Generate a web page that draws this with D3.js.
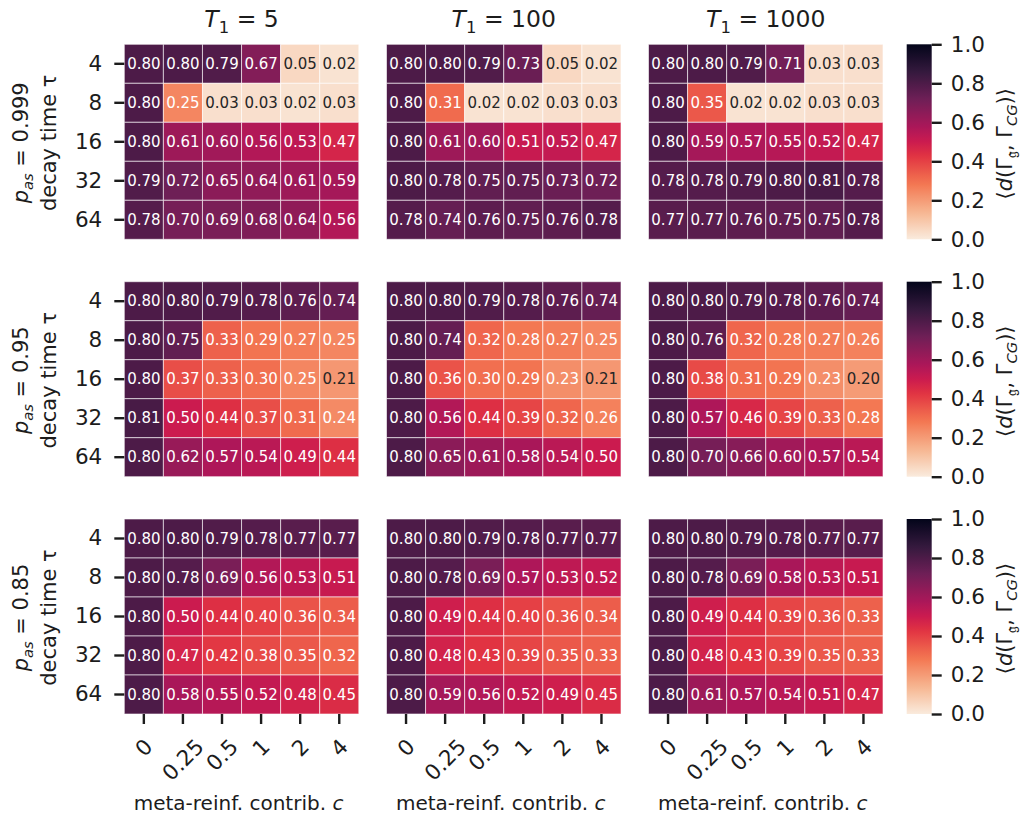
<!DOCTYPE html>
<html>
<head>
<meta charset="utf-8">
<script src="https://cdn.jsdelivr.net/npm/d3@7"></script>
<style>
  body { margin: 0; background: #fff; }
  svg { font-family: "DejaVu Sans", sans-serif; }
</style>
</head>
<body>
<div id="chart"></div>
<script>
// columns / rows of every heatmap
const cLabels = ["0", "0.25", "0.5", "1", "2", "4"];
const tauLabels = ["4", "8", "16", "32", "64"];
const t1Values = ["5", "100", "1000"];
const pasValues = ["0.999", "0.95", "0.85"];
const cbarTicks = [0, 0.2, 0.4, 0.6, 0.8, 1.0];

// p_as = 0.999
const p999_t5 = [
  [0.80, 0.80, 0.79, 0.67, 0.05, 0.02],
  [0.80, 0.25, 0.03, 0.03, 0.02, 0.03],
  [0.80, 0.61, 0.60, 0.56, 0.53, 0.47],
  [0.79, 0.72, 0.65, 0.64, 0.61, 0.59],
  [0.78, 0.70, 0.69, 0.68, 0.64, 0.56]
];
const p999_t100 = [
  [0.80, 0.80, 0.79, 0.73, 0.05, 0.02],
  [0.80, 0.31, 0.02, 0.02, 0.03, 0.03],
  [0.80, 0.61, 0.60, 0.51, 0.52, 0.47],
  [0.80, 0.78, 0.75, 0.75, 0.73, 0.72],
  [0.78, 0.74, 0.76, 0.75, 0.76, 0.78]
];
const p999_t1000 = [
  [0.80, 0.80, 0.79, 0.71, 0.03, 0.03],
  [0.80, 0.35, 0.02, 0.02, 0.03, 0.03],
  [0.80, 0.59, 0.57, 0.55, 0.52, 0.47],
  [0.78, 0.78, 0.79, 0.80, 0.81, 0.78],
  [0.77, 0.77, 0.76, 0.75, 0.75, 0.78]
];
// p_as = 0.95
const p95_t5 = [
  [0.80, 0.80, 0.79, 0.78, 0.76, 0.74],
  [0.80, 0.75, 0.33, 0.29, 0.27, 0.25],
  [0.80, 0.37, 0.33, 0.30, 0.25, 0.21],
  [0.81, 0.50, 0.44, 0.37, 0.31, 0.24],
  [0.80, 0.62, 0.57, 0.54, 0.49, 0.44]
];
const p95_t100 = [
  [0.80, 0.80, 0.79, 0.78, 0.76, 0.74],
  [0.80, 0.74, 0.32, 0.28, 0.27, 0.25],
  [0.80, 0.36, 0.30, 0.29, 0.23, 0.21],
  [0.80, 0.56, 0.44, 0.39, 0.32, 0.26],
  [0.80, 0.65, 0.61, 0.58, 0.54, 0.50]
];
const p95_t1000 = [
  [0.80, 0.80, 0.79, 0.78, 0.76, 0.74],
  [0.80, 0.76, 0.32, 0.28, 0.27, 0.26],
  [0.80, 0.38, 0.31, 0.29, 0.23, 0.20],
  [0.80, 0.57, 0.46, 0.39, 0.33, 0.28],
  [0.80, 0.70, 0.66, 0.60, 0.57, 0.54]
];
// p_as = 0.85
const p85_t5 = [
  [0.80, 0.80, 0.79, 0.78, 0.77, 0.77],
  [0.80, 0.78, 0.69, 0.56, 0.53, 0.51],
  [0.80, 0.50, 0.44, 0.40, 0.36, 0.34],
  [0.80, 0.47, 0.42, 0.38, 0.35, 0.32],
  [0.80, 0.58, 0.55, 0.52, 0.48, 0.45]
];
const p85_t100 = [
  [0.80, 0.80, 0.79, 0.78, 0.77, 0.77],
  [0.80, 0.78, 0.69, 0.57, 0.53, 0.52],
  [0.80, 0.49, 0.44, 0.40, 0.36, 0.34],
  [0.80, 0.48, 0.43, 0.39, 0.35, 0.33],
  [0.80, 0.59, 0.56, 0.52, 0.49, 0.45]
];
const p85_t1000 = [
  [0.80, 0.80, 0.79, 0.78, 0.77, 0.77],
  [0.80, 0.78, 0.69, 0.58, 0.53, 0.51],
  [0.80, 0.49, 0.44, 0.39, 0.36, 0.33],
  [0.80, 0.48, 0.43, 0.39, 0.35, 0.33],
  [0.80, 0.61, 0.57, 0.54, 0.51, 0.47]
];

const grid = [
  [p999_t5, p999_t100, p999_t1000],
  [p95_t5, p95_t100, p95_t1000],
  [p85_t5, p85_t100, p85_t1000]
];

const svgWidth = 1023;
const svgHeight = 821;

const panelLefts = [124.3, 386.5, 648.5];
const panelTops = [44.3, 281.7, 519];
const panelW = 234.5;
const panelH = 195;
const cbarLeft = 906.7;
const cbarW = 25;

const ink = "#1c1c1c";
const tickFont = 21.5;
const titleFont = 23.5;
const ylabFont = 21;
const xlabFont = 20;
const cbarLabFont = 21;
const annotFont = 15;

// seaborn "rocket", reversed
const rocketPos = [0, 1 / 7, 2 / 7, 3 / 7, 0.5, 4 / 7, 5 / 7, 6 / 7, 1];
const rocketCols = ["#03051a", "#35193e", "#701f57", "#ad1759", "#cb1b4f", "#e13342", "#f37651", "#f6b48f", "#faebdd"];
const rocket = d3.scaleLinear().domain(rocketPos).range(rocketCols).interpolate(d3.interpolateRgb);
const color = v => rocket(1 - Math.max(0, Math.min(1, v)));

function luminance(c) {
  const rgb = d3.rgb(c);
  const lin = [rgb.r, rgb.g, rgb.b].map(x => {
    x /= 255;
    return x <= 0.03928 ? x / 12.92 : Math.pow((x + 0.055) / 1.055, 2.4);
  });
  return 0.2126 * lin[0] + 0.7152 * lin[1] + 0.0722 * lin[2];
}

const svg = d3.select("#chart")
  .append("svg")
  .attr("width", svgWidth)
  .attr("height", svgHeight);

const defs = svg.append("defs");
const grad = defs.append("linearGradient")
  .attr("id", "cbarGrad")
  .attr("x1", 0).attr("y1", 1).attr("x2", 0).attr("y2", 0);
d3.range(0, 1.0001, 0.02).forEach(v => {
  grad.append("stop").attr("offset", v).attr("stop-color", color(v));
});

const xScale = d3.scaleBand().domain(cLabels).range([0, panelW]);
const yScale = d3.scaleBand().domain(tauLabels).range([0, panelH]);

function styleAxis(g) {
  g.select(".domain").remove();
  g.selectAll(".tick line").attr("stroke", ink).attr("stroke-width", 2.4);
  g.selectAll(".tick text").attr("fill", ink).style("font-size", tickFont + "px")
    .style("font-family", "DejaVu Sans");
}

grid.forEach((rowPanels, ri) => {
  rowPanels.forEach((values, ci) => {
    const g = svg.append("g")
      .attr("transform", `translate(${panelLefts[ci]}, ${panelTops[ri]})`);

    const cells = [];
    values.forEach((row, i) => row.forEach((v, j) => cells.push({ tau: tauLabels[i], c: cLabels[j], v: v })));

    g.selectAll("rect.cell")
      .data(cells)
      .enter()
      .append("rect")
      .attr("class", "cell")
      .attr("x", d => xScale(d.c))
      .attr("y", d => yScale(d.tau))
      .attr("width", xScale.bandwidth())
      .attr("height", yScale.bandwidth())
      .attr("fill", d => color(d.v))
      .attr("stroke", "#ffffff")
      .attr("stroke-opacity", 0.6)
      .attr("stroke-width", 1);

    g.selectAll("text.annot")
      .data(cells)
      .enter()
      .append("text")
      .attr("class", "annot")
      .attr("x", d => xScale(d.c) + xScale.bandwidth() / 2)
      .attr("y", d => yScale(d.tau) + yScale.bandwidth() / 2)
      .attr("text-anchor", "middle")
      .attr("dominant-baseline", "central")
      .style("font-size", annotFont + "px")
      .attr("fill", d => luminance(color(d.v)) > 0.408 ? "#262626" : "#ffffff")
      .text(d => d.v.toFixed(2));

    // y axis only on first column
    if (ci === 0) {
      const yAxis = g.append("g")
        .call(d3.axisLeft(yScale).tickSize(10).tickPadding(12));
      styleAxis(yAxis);
    }

    // x axis only on last row
    if (ri === grid.length - 1) {
      const xAxis = g.append("g")
        .attr("transform", `translate(0, ${panelH})`)
        .call(d3.axisBottom(xScale).tickSize(10).tickFormat(""));
      styleAxis(xAxis);

      const h = tickFont * 1.16;
      cLabels.forEach(lbl => {
        const t = g.append("text")
          .attr("text-anchor", "middle")
          .attr("dominant-baseline", "central")
          .attr("fill", ink)
          .style("font-size", tickFont + "px")
          .text(lbl);
        const w = t.node().getComputedTextLength();
        const cy = panelH + 20 + (w + h) / (2 * Math.SQRT2);
        t.attr("transform", `translate(${xScale(lbl) + xScale.bandwidth() / 2}, ${cy}) rotate(-45)`);
      });

      const xl = g.append("text")
        .attr("x", panelW / 2 - 3)
        .attr("y", panelH + 96)
        .attr("text-anchor", "middle")
        .attr("fill", ink)
        .style("font-size", xlabFont + "px");
      xl.append("tspan").text("meta-reinf. contrib. ");
      xl.append("tspan").attr("font-style", "italic").text("c");
    }

    // column titles
    if (ri === 0) {
      const tt = g.append("text")
        .attr("x", panelW / 2)
        .attr("y", -17)
        .attr("text-anchor", "middle")
        .attr("fill", ink)
        .style("font-size", titleFont + "px");
      tt.append("tspan").attr("font-style", "italic").text("T");
      tt.append("tspan").attr("dy", 6).style("font-size", (titleFont * 0.7) + "px").text("1");
      tt.append("tspan").attr("dy", -6).text(" = " + t1Values[ci]);
    }
  });

  // row labels
  const midY = panelTops[ri] + panelH / 2;
  const pl = svg.append("text")
    .attr("transform", `translate(28, ${midY + 1}) rotate(-90)`)
    .attr("text-anchor", "middle")
    .attr("fill", ink)
    .style("font-size", ylabFont + "px");
  pl.append("tspan").attr("font-style", "italic").text("p");
  pl.append("tspan").attr("font-style", "italic").attr("dy", 5).style("font-size", (ylabFont * 0.7) + "px").text("as");
  pl.append("tspan").attr("dy", -5).text(" = " + pasValues[ri]);

  svg.append("text")
    .attr("transform", `translate(56, ${midY + 1}) rotate(-90)`)
    .attr("text-anchor", "middle")
    .attr("fill", ink)
    .style("font-size", ylabFont + "px")
    .text("decay time τ");

  // colorbar
  const cb = svg.append("g")
    .attr("transform", `translate(${cbarLeft}, ${panelTops[ri]})`);
  cb.append("rect")
    .attr("width", cbarW)
    .attr("height", panelH)
    .attr("fill", "url(#cbarGrad)");
  const cScale = d3.scaleLinear().domain([0, 1]).range([panelH, 0]);
  const cAxis = cb.append("g")
    .attr("transform", `translate(${cbarW}, 0)`)
    .call(d3.axisRight(cScale).tickValues(cbarTicks).tickFormat(d3.format(".1f")).tickSize(10).tickPadding(9));
  styleAxis(cAxis);

  const cl = svg.append("text")
    .attr("transform", `translate(1012, ${midY + 2}) rotate(-90)`)
    .attr("text-anchor", "middle")
    .attr("fill", ink)
    .style("font-size", cbarLabFont + "px");
  cl.append("tspan").text("⟨");
  cl.append("tspan").attr("font-style", "italic").text("d");
  cl.append("tspan").text("(Γ");
  cl.append("tspan").attr("dy", 5).style("font-size", (cbarLabFont * 0.7) + "px").text("𝔤");
  cl.append("tspan").attr("dy", -5).text(", Γ");
  cl.append("tspan").attr("dy", 5).attr("font-style", "italic").style("font-size", (cbarLabFont * 0.7) + "px").text("CG");
  cl.append("tspan").attr("dy", -5).text(")⟩");
});
</script>
</body>
</html>
